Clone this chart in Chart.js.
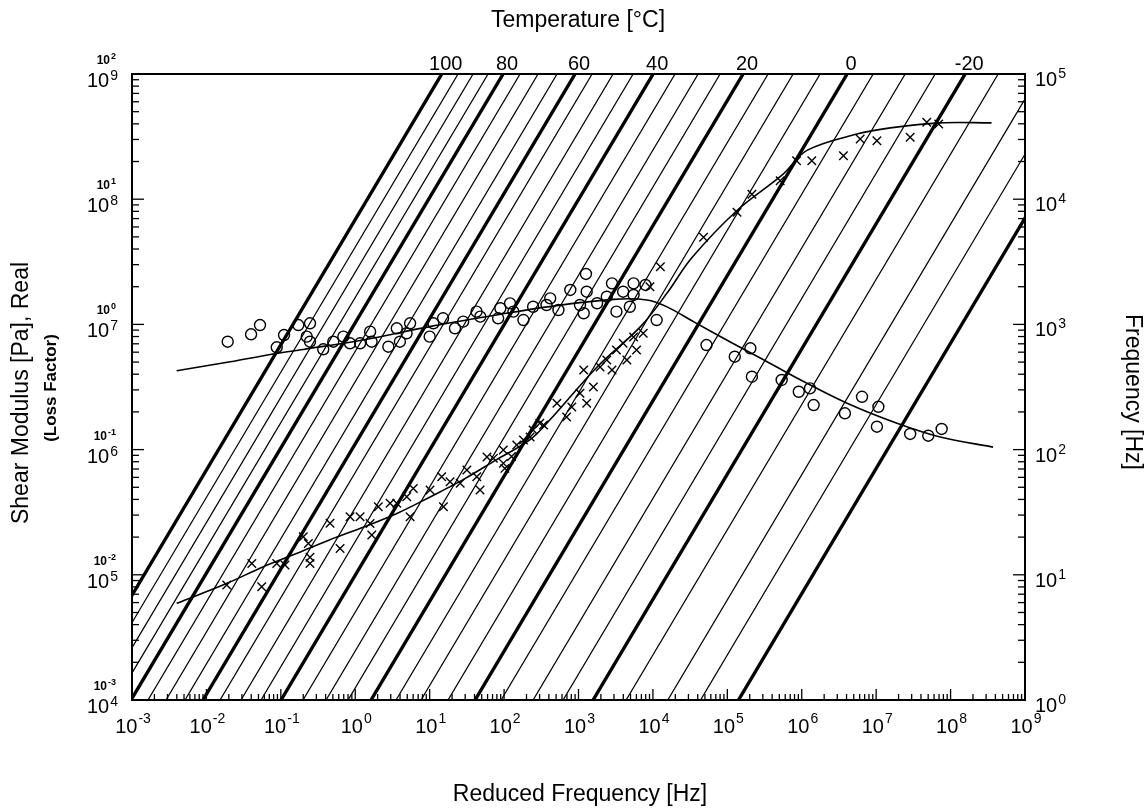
<!DOCTYPE html>
<html>
<head>
<meta charset="utf-8">
<title>Reduced frequency nomogram</title>
<script src="https://cdn.jsdelivr.net/npm/chart.js@4.4.1/dist/chart.umd.min.js"></script>
<style>
  html, body { margin: 0; padding: 0; background: #fff; }
  #wrap { width: 1148px; height: 812px; }
</style>
</head>
<body>
<div id="wrap"><canvas id="nomogram" width="1148" height="812"></canvas></div>
<script>
// all frequencies / moduli are kept as decade exponents (log10)

// isotherms: temperature and log10 of reduced frequency at 1 Hz
const temperatures = [100, 95, 90, 85, 80, 75, 70, 65, 60, 55, 50, 45, 40, 35, 30,
  25, 20, 15, 10, 5, 0, -5, -10, -15, -20, -25, -30, -35, -40];
const tempShiftExp = [-3.837, -3.618, -3.417, -3.215, -3.013, -2.785, -2.543, -2.288,
  -2.046, -1.817, -1.535, -1.266, -0.997, -0.702, -0.392, -0.097, 0.212, 0.548, 0.884,
  1.247, 1.610, 1.960, 2.390, 2.793, 3.196, 3.640, 4.200, 4.640, 5.150];
const tempLabels = [100, 80, 60, 40, 20, 0, -20];

// tick labels (decade exponents)
const freqTickExp = [-3, -2, -1, 0, 1, 2, 3, 4, 5, 6, 7, 8, 9];
const modTickExp = [4, 5, 6, 7, 8, 9];
const lossTickExp = [-3, -2, -1, 0, 1, 2];
const hzTickExp = [0, 1, 2, 3, 4, 5];

// measured shear modulus (x markers)
const modFreqExp = [-1.727, -1.39, -1.257, -1.055, -0.944, -0.698, -0.63, -0.608, -0.608,
  -0.339, -0.204, -0.07, 0.065, 0.199, 0.222, 0.31, 0.468, 0.558, 0.692, 0.737, 0.78,
  1.005, 1.162, 1.185, 1.274, 1.41, 1.50, 1.633, 1.677, 1.77, 1.856, 1.99, 1.99, 2.01,
  2.10, 2.17, 2.26, 2.35, 2.39, 2.48, 2.53, 2.71, 2.84, 2.91, 3.02, 3.07, 3.11, 3.20,
  3.29, 3.38, 3.45, 3.51, 3.60, 3.65, 3.74, 3.78, 3.87, 3.96, 4.10, 4.68, 5.13, 5.33,
  5.71, 5.93, 6.135, 6.56, 6.785, 7.01, 7.457, 7.68, 7.84];
const modExp = [4.919, 5.09, 4.905, 5.09, 5.078, 5.304, 5.25, 5.09, 5.14,
  5.411, 5.21, 5.464, 5.464, 5.41, 5.318, 5.544, 5.571, 5.571, 5.624, 5.464, 5.69,
  5.677, 5.784, 5.544, 5.744, 5.731, 5.837, 5.784, 5.677, 5.94, 5.93, 5.89, 5.997, 5.85,
  5.944, 6.037, 6.077, 6.10, 6.157, 6.21, 6.197, 6.37, 6.26, 6.34, 6.45, 6.636, 6.37, 6.50,
  6.66, 6.716, 6.636, 6.796, 6.85, 6.716, 6.90, 6.796, 6.93, 7.30, 7.46, 7.696, 7.895, 8.04,
  8.148, 8.307, 8.307, 8.347, 8.48, 8.467, 8.494, 8.614, 8.60];

// measured loss factor (circles)
const lossFreqExp = [-1.714, -1.40, -1.28, -1.055, -0.957, -0.765, -0.608, -0.652, -0.608,
  -0.43, -0.295, -0.16, -0.07, 0.065, 0.20, 0.22, 0.445, 0.558, 0.60, 0.737, 0.69, 1.0,
  1.05, 1.18, 1.34, 1.45, 1.63, 1.68, 1.92, 1.95, 2.08, 2.125, 2.26, 2.39, 2.57,
  3.10, 2.89, 3.11, 2.62, 2.73, 3.02, 3.07, 3.25, 3.45, 3.38, 3.51, 3.60, 3.74, 3.74,
  3.90, 3.69, 4.05, 4.72, 5.10, 5.31, 5.33, 5.73, 5.96, 6.11, 6.16, 6.58, 6.81, 7.03,
  7.01, 7.457, 7.70, 7.88];
const lossExp = [-0.138, -0.079, -0.005, -0.183, -0.085, -0.005, 0.009, -0.098, -0.138,
  -0.199, -0.138, -0.098, -0.151, -0.151, -0.058, -0.138, -0.178, -0.031, -0.138, 0.009,
  -0.071, -0.098, 0.009, 0.049, -0.031, 0.022, 0.102, 0.062, 0.049, 0.129, 0.168, 0.102,
  0.035, 0.141, 0.155, 0.403, 0.275, 0.261, 0.208, 0.115, 0.155, 0.089, 0.169, 0.328,
  0.221, 0.102, 0.261, 0.328, 0.235, 0.315, 0.141, 0.035, -0.165, -0.258, -0.191, -0.418,
  -0.444, -0.538, -0.511, -0.644, -0.71, -0.578, -0.658, -0.817, -0.875, -0.889, -0.835];

// fitted master curves
const modFitFreqExp = [-2.40, -1.73, -1.235, -0.79, -0.34, 0.105, 0.56, 1.0, 1.45, 1.90,
  2.35, 2.62, 3.25, 3.83, 4.19, 4.52, 5.13, 5.75, 6.07, 6.74, 7.19, 7.86, 8.55];
const modFitExp = [4.772, 4.93, 5.065, 5.17, 5.28, 5.38, 5.49, 5.62, 5.76, 5.92,
  6.08, 6.24, 6.66, 6.98, 7.25, 7.53, 7.91, 8.20, 8.39, 8.52, 8.57, 8.61, 8.61];
const lossFitFreqExp = [-2.40, -1.68, -1.10, -0.70, 0.10, 1.0, 1.9, 2.58, 3.47, 3.92,
  4.19, 4.55, 5.04, 5.48, 5.94, 6.61, 7.28, 7.86, 8.57];
const lossFitExp = [-0.37, -0.298, -0.236, -0.20, -0.125, -0.018, 0.075, 0.14, 0.20, 0.195,
  0.14, 0.02, -0.14, -0.28, -0.43, -0.63, -0.79, -0.90, -0.98];

const FONT = "'Liberation Sans', Arial, Helvetica, sans-serif";

const pts = (xs, ys) => xs.map((e, i) => ({ x: 10 ** e, y: 10 ** ys[i] }));

const isoDatasets = temperatures.map((t, i) => ({
  type: "line",
  label: `${t} °C`,
  data: [
    { x: 10 ** tempShiftExp[i], y: 1 },
    { x: 10 ** (tempShiftExp[i] + 5), y: 1e5 },
  ],
  yAxisID: "yFreq",
  borderColor: "#000",
  borderWidth: t % 20 === 0 ? 3.4 : 1.25,
  pointRadius: 0,
  clip: 0,
  order: 3,
}));

function drawPower(ctx, exp, x, y, align, size, supSize, rise, weight) {
  const base = "10";
  const sup = String(exp);
  ctx.font = `${weight} ${size}px ${FONT}`;
  const wb = ctx.measureText(base).width;
  ctx.font = `${weight} ${supSize}px ${FONT}`;
  const ws = ctx.measureText(sup).width;
  const total = wb + ws + 1;
  let x0 = x;
  if (align === "center") x0 = x - total / 2;
  if (align === "right") x0 = x - total;
  ctx.textAlign = "left";
  ctx.textBaseline = "alphabetic";
  ctx.font = `${weight} ${size}px ${FONT}`;
  ctx.fillText(base, x0, y);
  ctx.font = `${weight} ${supSize}px ${FONT}`;
  ctx.fillText(sup, x0 + wb + 1, y - rise);
}

function drawLogTicks(ctx, scale, side, a, major, minor) {
  const lo = Math.round(Math.log10(scale.min));
  const hi = Math.round(Math.log10(scale.max));
  for (let k = lo; k <= hi; k++) {
    for (let m = 1; m <= 9; m++) {
      if (k === hi && m > 1) break;
      const p = scale.getPixelForValue(m * 10 ** k);
      const len = m === 1 ? major : minor;
      ctx.beginPath();
      if (side === "bottom") {
        ctx.moveTo(p, a.bottom);
        ctx.lineTo(p, a.bottom - len);
      } else if (side === "left") {
        ctx.moveTo(a.left, p);
        ctx.lineTo(a.left + len, p);
      } else {
        ctx.moveTo(a.right, p);
        ctx.lineTo(a.right - len, p);
      }
      ctx.stroke();
    }
  }
}

function drawRotated(ctx, text, x, y, angle, font) {
  ctx.save();
  ctx.translate(x, y);
  ctx.rotate(angle);
  ctx.font = font;
  ctx.textAlign = "center";
  ctx.textBaseline = "middle";
  ctx.fillText(text, 0, 0);
  ctx.restore();
}

const framePlugin = {
  id: "nomogramFrame",
  afterDraw(chart) {
    const { ctx, chartArea: a, scales } = chart;
    const { x, yMod, yLoss, yFreq } = scales;
    ctx.save();
    ctx.strokeStyle = "#000";
    ctx.fillStyle = "#000";

    // inward tick marks
    ctx.lineWidth = 1.3;
    drawLogTicks(ctx, x, "bottom", a, 11, 6);
    drawLogTicks(ctx, yMod, "left", a, 12, 7);
    drawLogTicks(ctx, yFreq, "right", a, 12, 7);

    // frame
    ctx.lineWidth = 2;
    ctx.strokeRect(a.left, a.top, a.width, a.height);

    // bottom: reduced frequency
    freqTickExp.forEach((e) => {
      drawPower(ctx, e, x.getPixelForValue(10 ** e) + 1, a.bottom + 33, "center", 20, 14, 10, "normal");
    });
    // left: modulus and loss factor
    modTickExp.forEach((e) => {
      drawPower(ctx, e, a.left - 14, yMod.getPixelForValue(10 ** e) + 13, "right", 20, 14, 7, "normal");
    });
    lossTickExp.forEach((e) => {
      drawPower(ctx, e, a.left - 16, yLoss.getPixelForValue(10 ** e) - 10, "right", 12, 9, 5, "bold");
    });
    // right: frequency
    hzTickExp.forEach((e) => {
      drawPower(ctx, e, a.right + 10, yFreq.getPixelForValue(10 ** e) + 12, "left", 20, 14, 8, "normal");
    });

    // top: temperature of each bold isotherm where it meets 1e5 Hz
    ctx.font = `20px ${FONT}`;
    ctx.textAlign = "center";
    ctx.textBaseline = "alphabetic";
    tempLabels.forEach((t) => {
      const i = temperatures.indexOf(t);
      const px = x.getPixelForValue(10 ** (tempShiftExp[i] + 5));
      ctx.fillText(String(t), px + 4, a.top - 4);
    });

    // titles
    ctx.font = `23px ${FONT}`;
    ctx.textBaseline = "middle";
    ctx.fillText("Temperature [°C]", 578, 21);
    ctx.fillText("Reduced Frequency [Hz]", 580, 795);
    drawRotated(ctx, "Shear Modulus [Pa], Real", 22, 393, -Math.PI / 2, `23px ${FONT}`);
    drawRotated(ctx, "(Loss Factor)", 51, 388, -Math.PI / 2, `bold 17px ${FONT}`);
    drawRotated(ctx, "Frequency [Hz]", 1132, 392, Math.PI / 2, `23px ${FONT}`);
    ctx.restore();
  },
};

new Chart(document.getElementById("nomogram"), {
  type: "scatter",
  data: {
    datasets: [
      {
        label: "Loss factor",
        data: pts(lossFreqExp, lossExp),
        yAxisID: "yLoss",
        pointStyle: "circle",
        pointRadius: 5.5,
        borderWidth: 1.4,
        borderColor: "#000",
        backgroundColor: "rgba(0,0,0,0)",
        order: 0,
      },
      {
        label: "Shear modulus",
        data: pts(modFreqExp, modExp),
        yAxisID: "yMod",
        pointStyle: "crossRot",
        pointRadius: 6,
        borderWidth: 1.4,
        borderColor: "#000",
        order: 0,
      },
      {
        type: "line",
        label: "Loss factor fit",
        data: pts(lossFitFreqExp, lossFitExp),
        yAxisID: "yLoss",
        borderColor: "#000",
        borderWidth: 1.6,
        pointRadius: 0,
        tension: 0.35,
        order: 1,
      },
      {
        type: "line",
        label: "Modulus fit",
        data: pts(modFitFreqExp, modFitExp),
        yAxisID: "yMod",
        borderColor: "#000",
        borderWidth: 1.6,
        pointRadius: 0,
        tension: 0.35,
        order: 1,
      },
      ...isoDatasets,
    ],
  },
  options: {
    responsive: false,
    animation: false,
    devicePixelRatio: 1,
    layout: { padding: { left: 132, right: 123, top: 74, bottom: 112 } },
    plugins: {
      legend: { display: false },
      tooltip: { enabled: false },
    },
    scales: {
      x: { type: "logarithmic", min: 1e-3, max: 1e9, display: false },
      yMod: { type: "logarithmic", position: "left", min: 1e4, max: 1e9, display: false },
      yLoss: { type: "logarithmic", position: "left", min: 1e-3, max: 1e2, display: false },
      yFreq: { type: "logarithmic", position: "right", min: 1, max: 1e5, display: false },
    },
  },
  plugins: [framePlugin],
});
</script>
</body>
</html>
